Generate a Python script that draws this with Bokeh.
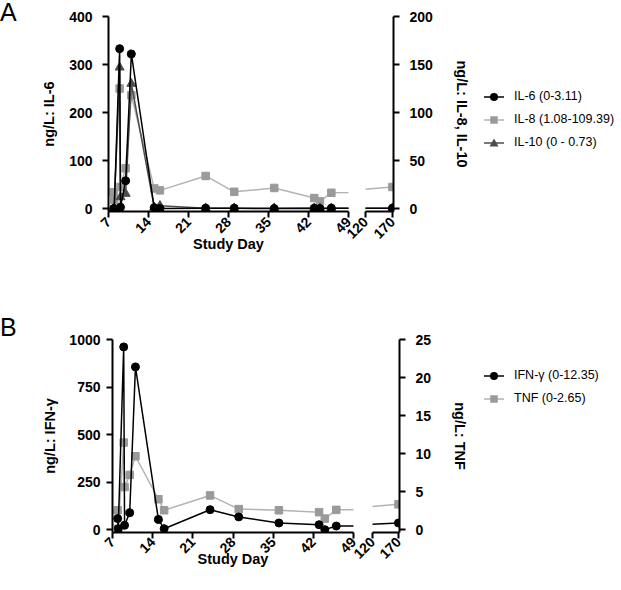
import math
from bokeh.plotting import figure
from bokeh.models import Range1d, LinearAxis, FixedTicker, Div
from bokeh.layouts import column, row
from bokeh.embed import file_html
from bokeh.resources import INLINE

# ---------------- data ----------------
study_day = [7.9, 8.0, 8.95, 9.1, 10, 11, 15, 16, 24, 29, 36, 43, 44, 46, 170]
il6 = [0, 0, 333, 3, 58, 322, 2, 0, 1, 1, 0, 1, 0, 1, 1]
il8 = [17, 9, 125, 22.5, 42, 118, 21, 19, 34, 17.5, 21.5, 11, 7.5, 16.5, 22.5]
il10 = [0, 0, 147, 12, 15.5, 130, 1.5, 3, 0.5, 0.5, 0.5, 0.5, 0.5, 0.5, 0.5]
ifng = [58, 5, 961, 23, 89, 856, 54, 5, 105, 67, 35, 26, 0, 19, 35]
tnf = [2.55, 0.1, 11.45, 5.6, 7.2, 9.65, 4.0, 2.55, 4.5, 2.7, 2.55, 2.3, 1.45, 2.6, 3.33]

day_ticks_early = [7, 14, 21, 28, 35, 42, 49]
day_ticks_late = [120, 170]
il6_ticks = [0, 100, 200, 300, 400]
il8_ticks = [0, 50, 100, 150, 200]
ifng_ticks = [0, 250, 500, 750, 1000]
tnf_ticks = [0, 5, 10, 15, 20, 25]

legend_a = ["IL-6 (0-3.11)", "IL-8 (1.08-109.39)", "IL-10 (0 - 0.73)"]
legend_b = ["IFN-γ (0-12.35)", "TNF (0-2.65)"]

FONT = "Liberation Sans"
BLACK = "#000000"
GRAY_M = "#9a9a9a"
GRAY_L = "#b3b3b3"
DARK = "#4d4d4d"
COMMON = dict(output_backend="svg", toolbar_location=None, title=None)


def bare(p):
    p.xgrid.visible = False
    p.ygrid.visible = False
    p.outline_line_color = None
    p.border_fill_alpha = 0
    p.background_fill_alpha = 0


def style_axis(ax, ticks, label_standoff=3):
    ax.ticker = FixedTicker(ticks=ticks)
    ax.axis_line_width = 2
    ax.axis_line_color = BLACK
    ax.major_tick_line_width = 2
    ax.major_tick_line_color = BLACK
    ax.major_tick_out = 6
    ax.major_tick_in = 0
    ax.minor_tick_line_color = None
    ax.major_label_text_font = FONT
    ax.major_label_text_font_style = "bold"
    ax.major_label_text_font_size = "14px"
    ax.major_label_text_color = BLACK
    ax.major_label_standoff = label_standoff
    ax.axis_label_text_font = FONT
    ax.axis_label_text_font_style = "bold"
    ax.axis_label_text_font_size = "14.5px"
    ax.axis_label_text_color = BLACK


def legend_html(series, labels):
    rows = []
    for key, lab in zip(series.keys(), labels):
        vals, side, marker, mcolor, lcolor, size = series[key]
        h = size / 2
        if marker == "circle":
            m = f'<circle cx="10" cy="7" r="{h}" fill="{mcolor}"/>'
        elif marker == "square":
            m = f'<rect x="{10 - h}" y="{7 - h}" width="{size}" height="{size}" fill="{mcolor}"/>'
        else:
            m = (f'<polygon points="10,{7 - h} {10 + h},{7 + h * 0.8} {10 - h},{7 + h * 0.8}" '
                 f'fill="{mcolor}"/>')
        rows.append(
            '<div style="display:flex;align-items:center;height:23px;white-space:nowrap;">'
            '<svg width="20" height="14" style="flex:none;margin-right:10px;">'
            f'<line x1="0" y1="7" x2="20" y2="7" stroke="{lcolor}" stroke-width="1.5"/>{m}'
            f'</svg><span>{lab}</span></div>')
    return "".join(rows)


def build_panel(letter, letter_top, series, order, labels, left_max, right_max,
                left_ticks, right_ticks, left_label, right_label, frame_h, border_left,
                border_top, border_bottom, gap, w1, w2, right_border, legend_top,
                x_lab_standoff, x_tick_standoff, y_tick_standoff, y_lab_standoff):
    pad_l = left_max * 0.015
    pad_r = right_max * 0.015
    p1_right = 10
    p2_left = gap + 10
    lead_w = 20

    lead = Div(text=letter, width=lead_w, height=30, margin=(letter_top, 0, 0, 0),
               styles={"font-family": FONT, "font-size": "25px", "line-height": "25px",
                       "color": "black", "white-space": "nowrap"})

    vert = dict(frame_height=frame_h, min_border_top=border_top,
                min_border_bottom=border_bottom)
    p1 = figure(frame_width=w1, x_range=Range1d(7, 49), y_range=Range1d(-pad_l, left_max),
                min_border_left=border_left - lead_w, min_border_right=p1_right,
                **vert, **COMMON)
    p2 = figure(frame_width=w2, x_range=Range1d(120, 172), y_range=Range1d(-pad_l, left_max),
                y_axis_location=None, min_border_left=p2_left, min_border_right=right_border,
                margin=(0, 0, 0, -(2 * p1_right)), **vert, **COMMON)
    for p in (p1, p2):
        p.extra_y_ranges = {"r": Range1d(-pad_r, right_max)}
        bare(p)

    style_axis(p1.xaxis[0], day_ticks_early, x_tick_standoff)
    p1.xaxis[0].axis_label = "Study Day"
    p1.xaxis[0].axis_label_standoff = x_lab_standoff
    p1.xaxis[0].major_label_orientation = math.pi / 4
    style_axis(p1.yaxis[0], left_ticks, y_tick_standoff)
    p1.yaxis[0].axis_label = left_label
    p1.yaxis[0].axis_label_standoff = y_lab_standoff

    style_axis(p2.xaxis[0], day_ticks_late, x_tick_standoff)
    p2.xaxis[0].major_label_orientation = math.pi / 4
    rax = LinearAxis(y_range_name="r", axis_label=right_label)
    style_axis(rax, right_ticks, 10)
    rax.axis_label_standoff = 18
    p2.add_layout(rax, "right")

    for key in order:
        vals, side, marker, mcolor, lcolor, size = series[key]
        kw = {"y_range_name": "r"} if side == "right" else {}
        for p in (p1, p2):
            p.line(study_day, vals, line_color=lcolor, line_width=1.5, **kw)
            p.scatter(study_day, vals, marker=marker, size=size,
                      fill_color=mcolor, line_color=mcolor, **kw)

    legend = Div(text=legend_html(series, labels), width=130, height=23 * len(labels),
                 margin=(legend_top, 0, 0, 11),
                 styles={"font-family": FONT, "font-size": "12.5px", "color": "black"})
    return row(lead, p1, p2, legend)


series_a = {
    "il6": (il6, "left", "circle", BLACK, BLACK, 8),
    "il8": (il8, "right", "square", GRAY_M, GRAY_L, 7.5),
    "il10": (il10, "right", "triangle", DARK, DARK, 9),
}
series_b = {
    "ifng": (ifng, "left", "circle", BLACK, BLACK, 8),
    "tnf": (tnf, "right", "square", GRAY_M, GRAY_L, 7.5),
}

panel_a = build_panel("A", 0, series_a, ["il8", "il10", "il6"], legend_a, 400, 200,
                      il6_ticks, il8_ticks, "ng/L: IL-6", "ng/L: IL-8, IL-10",
                      195, 108, 16, 56, 17, 240, 28, 80, 85, -5, 2, 10, 9)
panel_b = build_panel("B", 48, series_b, ["tnf", "ifng"], legend_b, 1000, 25,
                      ifng_ticks, tnf_ticks, "ng/L: IFN-γ", "ng/L: TNF",
                      193, 112, 72, 0, 19, 241, 27, 74, 97, -10, 1, 6, 8)

layout = column(panel_a, panel_b)
open("out.html", "w").write(file_html(layout, INLINE))
